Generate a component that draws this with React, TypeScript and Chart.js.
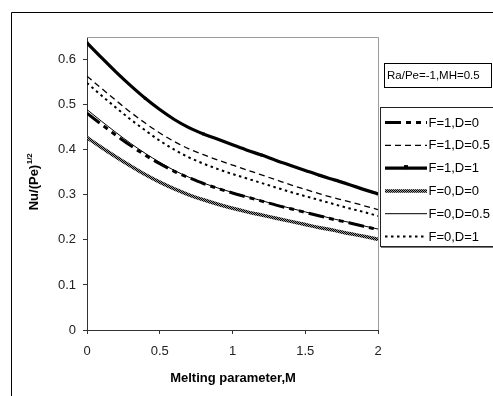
import React, { useEffect, useRef } from "react";
import { Chart, registerables } from "chart.js";

Chart.register(...registerables);

const M_VALUES = [0, 0.1, 0.2, 0.3, 0.4, 0.5, 0.6, 0.7, 0.8, 0.9, 1.0, 1.1, 1.2, 1.3, 1.4, 1.5, 1.6, 1.7, 1.8, 1.9, 2.0];
const X_TICKS = [0, 0.5, 1, 1.5, 2];
const Y_TICKS = [0, 0.1, 0.2, 0.3, 0.4, 0.5, 0.6];

const SERIES_NAMES = ["F=1,D=0", "F=1,D=0.5", "F=1,D=1", "F=0,D=0", "F=0,D=0.5", "F=0,D=1"];

const F1_D0 = [0.481, 0.456, 0.432, 0.409, 0.388, 0.369, 0.352, 0.338, 0.325, 0.314, 0.304, 0.295, 0.286, 0.277, 0.269, 0.261, 0.253, 0.245, 0.238, 0.230, 0.223];
const F1_D05 = [0.563, 0.536, 0.509, 0.483, 0.459, 0.437, 0.418, 0.402, 0.389, 0.377, 0.366, 0.355, 0.344, 0.333, 0.322, 0.312, 0.302, 0.293, 0.285, 0.276, 0.267];
const F1_D1 = [0.637, 0.604, 0.572, 0.542, 0.514, 0.489, 0.467, 0.449, 0.435, 0.423, 0.411, 0.399, 0.388, 0.376, 0.365, 0.354, 0.343, 0.333, 0.323, 0.312, 0.302];
const F0_D0 = [0.427, 0.405, 0.384, 0.364, 0.345, 0.328, 0.313, 0.300, 0.289, 0.279, 0.270, 0.262, 0.255, 0.248, 0.241, 0.234, 0.227, 0.221, 0.214, 0.208, 0.201];
const F0_D05 = [0.489, 0.463, 0.438, 0.414, 0.392, 0.372, 0.354, 0.339, 0.326, 0.315, 0.305, 0.296, 0.287, 0.278, 0.270, 0.262, 0.254, 0.246, 0.239, 0.231, 0.224];
const F0_D1 = [0.548, 0.520, 0.493, 0.467, 0.443, 0.420, 0.400, 0.383, 0.369, 0.357, 0.346, 0.336, 0.326, 0.316, 0.306, 0.297, 0.288, 0.279, 0.270, 0.262, 0.253];

const ANNOTATION = "Ra/Pe=-1,MH=0.5";
const X_TITLE = "Melting parameter,M";
const Y_TITLE = "Nu/(Pe)";
const Y_TITLE_SUP = "1/2";

const FONT = "'Liberation Sans', Arial, sans-serif";

function makeHatch(): CanvasPattern | string {
  const c = document.createElement("canvas");
  c.width = 2;
  c.height = 2;
  const g = c.getContext("2d");
  if (!g) return "#555";
  g.fillStyle = "#9a9a9a";
  g.fillRect(0, 0, 2, 2);
  g.fillStyle = "#000";
  g.fillRect(0, 0, 1, 1);
  g.fillRect(1, 1, 1, 1);
  const p = g.createPattern(c, "repeat");
  return p || "#555";
}

export default function App() {
  const ref = useRef<HTMLCanvasElement | null>(null);

  useEffect(() => {
    const canvas = ref.current;
    if (!canvas) return;
    const hatch = makeHatch();

    const seriesValues = [F1_D0, F1_D05, F1_D1, F0_D0, F0_D05, F0_D1];
    const styles: any[] = [
      { color: "#000", width: 3, dash: [16, 5, 5, 5, 5, 5], marker: false },
      { color: "#000", width: 1.3, dash: [6, 4], marker: false },
      { color: "#000", width: 3.2, dash: [], marker: true },
      { color: hatch, width: 3.5, dash: [], marker: false },
      { color: "#000", width: 1, dash: [], marker: false },
      { color: "#000", width: 2, dash: [2.5, 3.5], marker: false },
    ];

    const datasets = seriesValues.map((vals, i) => ({
      label: SERIES_NAMES[i],
      data: vals.map((v, j) => ({ x: M_VALUES[j], y: v })),
      borderColor: styles[i].color,
      backgroundColor: "#000",
      borderWidth: styles[i].width,
      borderDash: styles[i].dash,
      pointRadius: styles[i].marker ? M_VALUES.map((_, j) => (j % 4 === 0 ? 2 : 0)) : 0,
      pointStyle: "rect",
      pointBorderWidth: 0,
      fill: false,
      cubicInterpolationMode: "monotone",
      order: 6 - i,
    }));

    const overlay = {
      id: "overlay",
      afterDraw(chart: any) {
        const ctx = chart.ctx as CanvasRenderingContext2D;
        const { top, right, bottom, left } = chart.chartArea;
        ctx.save();
        ctx.setLineDash([]);

        // outer frame
        ctx.strokeStyle = "#000";
        ctx.lineWidth = 1;
        ctx.beginPath();
        ctx.moveTo(11.5, 396);
        ctx.lineTo(11.5, 12.5);
        ctx.lineTo(493, 12.5);
        ctx.stroke();

        // plot area border (top, right)
        ctx.strokeStyle = "#9a9a9a";
        ctx.beginPath();
        ctx.moveTo(left, Math.round(top) + 0.5);
        ctx.lineTo(Math.round(right) + 0.5, Math.round(top) + 0.5);
        ctx.lineTo(Math.round(right) + 0.5, bottom);
        ctx.stroke();

        // annotation box
        ctx.strokeStyle = "#000";
        ctx.fillStyle = "#fff";
        ctx.fillRect(384.5, 63.5, 107, 24);
        ctx.strokeRect(384.5, 63.5, 107, 24);
        ctx.fillStyle = "#000";
        ctx.font = "11.5px " + FONT;
        ctx.textBaseline = "middle";
        ctx.textAlign = "left";
        ctx.fillText(ANNOTATION, 387, 76);

        // legend box
        ctx.fillStyle = "#fff";
        ctx.fillRect(380.5, 107.5, 130, 139);
        ctx.strokeStyle = "#222";
        ctx.lineWidth = 1;
        ctx.strokeRect(380.5, 107.5, 130, 139);
        ctx.strokeStyle = "#777";
        ctx.beginPath();
        ctx.moveTo(381, 247.5);
        ctx.lineTo(493, 247.5);
        ctx.stroke();

        ctx.font = "13px " + FONT;
        for (let i = 0; i < SERIES_NAMES.length; i++) {
          const y = 122.5 + i * 22.8;
          const st = styles[i];
          ctx.strokeStyle = st.color;
          ctx.lineWidth = st.width;
          ctx.setLineDash(st.dash);
          ctx.beginPath();
          ctx.moveTo(385, y);
          ctx.lineTo(427, y);
          ctx.stroke();
          ctx.setLineDash([]);
          if (st.marker) {
            ctx.fillStyle = "#000";
            ctx.fillRect(404, y - 3, 4, 4);
          }
          ctx.fillStyle = "#000";
          ctx.fillText(SERIES_NAMES[i], 428.5, y + 0.5);
        }

        // x title
        ctx.font = "bold 13px " + FONT;
        ctx.textAlign = "center";
        ctx.textBaseline = "middle";
        ctx.fillText(X_TITLE, 233, 378);

        // y title (rotated with superscript)
        ctx.translate(38, 182);
        ctx.rotate(-Math.PI / 2);
        ctx.font = "bold 13px " + FONT;
        const w1 = ctx.measureText(Y_TITLE).width;
        ctx.font = "bold 8px " + FONT;
        const w2 = ctx.measureText(Y_TITLE_SUP).width;
        const start = -(w1 + w2) / 2;
        ctx.textAlign = "left";
        ctx.textBaseline = "alphabetic";
        ctx.font = "bold 13px " + FONT;
        ctx.fillText(Y_TITLE, start, 0);
        ctx.font = "bold 8px " + FONT;
        ctx.fillText(Y_TITLE_SUP, start + w1 + 0.5, -6);

        ctx.restore();
      },
    };

    const chart = new Chart(canvas, {
      type: "line",
      data: { datasets: datasets as any },
      options: {
        animation: false,
        responsive: false,
        devicePixelRatio: 1,
        layout: { padding: { left: 0, top: 37, right: 115, bottom: 0 } },
        plugins: { legend: { display: false }, tooltip: { enabled: false } },
        scales: {
          x: {
            type: "linear",
            min: 0,
            max: 2,
            afterFit: (s: any) => {
              s.height = 66;
            },
            afterBuildTicks: (s: any) => {
              s.ticks = X_TICKS.map((v) => ({ value: v }));
            },
            grid: { display: true, drawOnChartArea: false, drawTicks: true, tickLength: 4, color: "#333" },
            border: { display: true, color: "#333", width: 1 },
            ticks: {
              padding: 10,
              color: "#222",
              font: { family: FONT, size: 13 },
              callback: (v: any) => String(Number(v)),
              maxRotation: 0,
            },
          },
          y: {
            type: "linear",
            min: 0,
            max: 0.65,
            afterFit: (s: any) => {
              s.width = 87;
            },
            afterBuildTicks: (s: any) => {
              s.ticks = Y_TICKS.map((v) => ({ value: v }));
            },
            grid: { display: true, drawOnChartArea: false, drawTicks: true, tickLength: 4, color: "#333" },
            border: { display: true, color: "#333", width: 1 },
            ticks: {
              padding: 7,
              color: "#222",
              font: { family: FONT, size: 13 },
              callback: (v: any) => String(Number(Number(v).toFixed(1))),
            },
          },
        },
      },
      plugins: [overlay],
    });

    return () => chart.destroy();
  }, []);

  return (
    <div style={{ position: "absolute", left: 0, top: 0, width: 493, height: 396, background: "#fff" }}>
      <canvas ref={ref} width={493} height={396} style={{ width: 493, height: 396, display: "block" }} />
    </div>
  );
}
